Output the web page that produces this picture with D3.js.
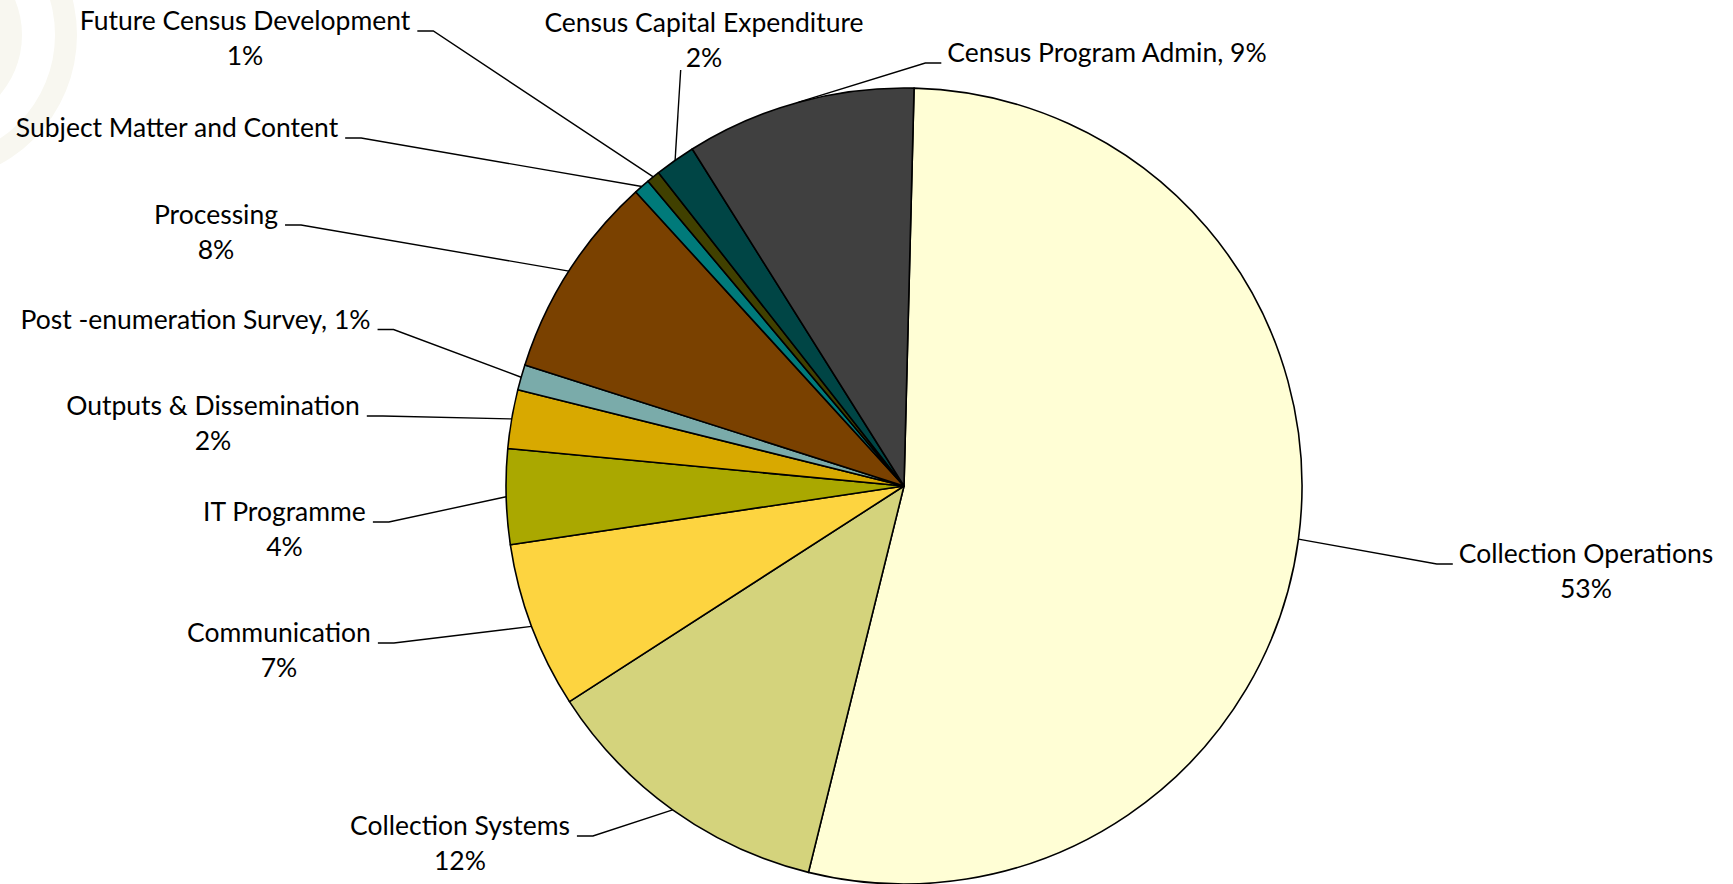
<!DOCTYPE html>
<html>
<head>
<meta charset="utf-8">
<script src="https://cdn.jsdelivr.net/npm/d3@7"></script>
<style>
  html, body { margin: 0; padding: 0; background: #ffffff; }
  svg { display: block; }
  text { font-family: Lato, "Open Sans", sans-serif; fill: #000; }
</style>
</head>
<body>
<script>
// ---- Data ----
const categories = [
  "Collection Operations", "Collection Systems", "Communication", "IT Programme",
  "Outputs & Dissemination", "Post -enumeration Survey", "Processing",
  "Subject Matter and Content", "Future Census Development",
  "Census Capital Expenditure", "Census Program Admin"
];
const shares = [53.45, 12.03, 6.75, 3.86, 2.39, 1.03, 8.31, 0.65, 0.54, 1.65, 9.33];
const sliceColors = ["#FFFED5", "#D4D37C", "#FDD440", "#AAA800", "#D8A900", "#7AABAA",
                     "#7A4100", "#007A7A", "#404000", "#004545", "#404040"];
// how each label is written: name over percent, "name, pct" on one line, or name only
const labelFormat = ["stack", "stack", "stack", "stack", "stack", "inline", "stack",
                     "name", "stack", "stack", "inline"];

// ---- Layout (manually placed labels, as in the original) ----
const W = 1733, H = 884;
const cx = 904, cy = 486, R = 398;
const startDeg = 1.45;
const fontSize = 26.5, lineGap = 35;
const labelLayout = [
  { x: 1586, y: 563, side: "right" },
  { x: 460, y: 835, side: "left" },
  { x: 279, y: 642, side: "left" },
  { x: 284.5, y: 521, side: "left" },
  { x: 213, y: 415, side: "left" },
  { x: 195.5, y: 328.5, side: "left" },
  { x: 216, y: 224, side: "left" },
  { x: 177, y: 137, side: "left" },
  { x: 245, y: 30, side: "left" },
  { x: 704, y: 32, side: "below" },
  { x: 1107, y: 62, side: "right" }
];

const svg = d3.select("body").append("svg").attr("width", W).attr("height", H);

// faint background decoration (slide template rings, top-left)
const deco = svg.append("g").attr("transform", "translate(-70,35)");
deco.append("path")
  .attr("d", d3.arc().innerRadius(125).outerRadius(147).startAngle(0).endAngle(2 * Math.PI)())
  .attr("fill", "#F8F7F0");
deco.append("path")
  .attr("d", d3.arc().innerRadius(0).outerRadius(92).startAngle(0).endAngle(2 * Math.PI)())
  .attr("fill", "#F8F7F0");

const total = d3.sum(shares);
const data = categories.map((c, i) => ({ name: c, value: shares[i], color: sliceColors[i], fmt: labelFormat[i], lay: labelLayout[i] }));

const a0 = startDeg * Math.PI / 180;
const pie = d3.pie().value(d => d.value).sort(null).startAngle(a0).endAngle(a0 + 2 * Math.PI);
const arcs = pie(data);
const arc = d3.arc().innerRadius(0).outerRadius(R);
const edge = d3.arc().innerRadius(R).outerRadius(R);

const g = svg.append("g").attr("transform", `translate(${cx},${cy})`);
g.selectAll("path.slice").data(arcs).join("path")
  .attr("class", "slice")
  .attr("d", arc)
  .attr("fill", d => d.data.color)
  .attr("stroke", "#000")
  .attr("stroke-width", 1.6)
  .attr("stroke-linejoin", "round");

// ---- Labels and leader lines ----
const pct = v => Math.round(v / total * 100) + "%";
const labels = svg.append("g");
const leaders = svg.append("g");

arcs.forEach(d => {
  const L = d.data.lay;
  let lines;
  if (d.data.fmt === "stack") lines = [d.data.name, pct(d.data.value)];
  else if (d.data.fmt === "inline") lines = [d.data.name + ", " + pct(d.data.value)];
  else lines = [d.data.name];

  const t = labels.append("text")
    .attr("text-anchor", "middle")
    .style("font-size", fontSize + "px");
  lines.forEach((ln, k) => {
    t.append("tspan").attr("x", L.x).attr("y", L.y + k * lineGap).text(ln);
  });

  const nodes = t.selectAll("tspan").nodes();
  const w0 = nodes[0].getComputedTextLength();
  const [ex, ey] = edge.centroid(d);
  const px = cx + ex, py = cy + ey;
  let pts;
  if (L.side === "left") {
    const sx = L.x + w0 / 2 + 7;
    pts = [[sx, L.y + 1], [sx + 16, L.y + 1], [px, py]];
  } else if (L.side === "right") {
    const sx = L.x - w0 / 2 - 6;
    pts = [[sx, L.y + 1], [sx - 16, L.y + 1], [px, py]];
  } else {
    const wl = nodes[nodes.length - 1].getComputedTextLength();
    const sx = L.x - wl / 2 - 5;
    pts = [[sx, L.y + (lines.length - 1) * lineGap + 3], [px, py]];
  }
  leaders.append("path")
    .attr("d", d3.line()(pts))
    .attr("fill", "none")
    .attr("stroke", "#000")
    .attr("stroke-width", 1.4);
});
</script>
</body>
</html>
